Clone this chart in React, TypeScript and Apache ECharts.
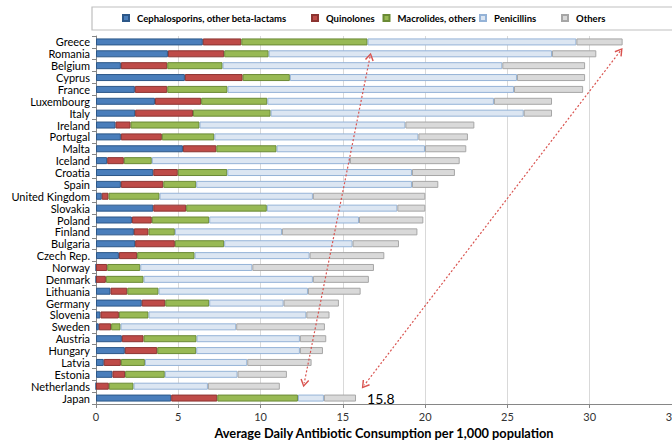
import React, { useEffect, useRef } from 'react';
import * as echarts from 'echarts';

const countries = [
  'Greece', 'Romania', 'Belgium', 'Cyprus', 'France', 'Luxembourg', 'Italy', 'Ireland',
  'Portugal', 'Malta', 'Iceland', 'Croatia', 'Spain', 'United Kingdom', 'Slovakia', 'Poland',
  'Finland', 'Bulgaria', 'Czech Rep.', 'Norway', 'Denmark', 'Lithuania', 'Germany', 'Slovenia',
  'Sweden', 'Austria', 'Hungary', 'Latvia', 'Estonia', 'Netherlands', 'Japan',
];

const cephalosporins = [6.49, 4.37, 1.51, 5.4, 2.36, 3.58, 2.38, 1.19, 1.51, 5.28, 0.68, 3.48, 1.51, 0.35, 3.48, 2.18, 2.3, 2.38, 1.39, 0.0, 0.0, 0.88, 2.78, 0.27, 0.17, 1.57, 1.75, 0.47, 1.0, 0.0, 4.57];
const quinolones = [2.34, 3.42, 2.82, 3.51, 1.97, 2.81, 3.51, 0.91, 2.49, 2.03, 1.01, 1.49, 2.58, 0.41, 2.0, 1.21, 0.89, 2.41, 1.11, 0.68, 0.6, 1.02, 1.43, 1.12, 0.75, 1.32, 1.97, 1.04, 0.77, 0.78, 2.8];
const macrolides = [7.67, 2.7, 3.36, 2.87, 3.66, 4.02, 4.72, 4.19, 3.19, 3.66, 1.7, 3.01, 2.0, 3.1, 4.9, 3.49, 1.6, 3.0, 3.49, 2.01, 2.29, 1.9, 2.67, 1.8, 0.57, 3.22, 2.37, 1.46, 2.41, 1.5, 4.9];
const penicillins = [12.69, 17.22, 17.0, 13.8, 17.41, 13.77, 15.38, 12.51, 12.4, 9.02, 12.04, 11.22, 13.11, 9.32, 7.93, 9.1, 6.51, 7.8, 6.99, 6.81, 10.29, 9.08, 4.52, 9.59, 7.03, 6.28, 6.3, 6.22, 4.42, 4.52, 1.58];
const others = [2.81, 2.69, 5.03, 4.14, 4.2, 3.53, 1.72, 4.19, 3.01, 2.51, 6.67, 2.61, 1.6, 6.83, 1.7, 3.91, 8.23, 2.82, 4.54, 7.39, 3.4, 3.2, 3.36, 1.41, 5.39, 1.6, 1.4, 3.91, 3.0, 4.37, 1.95];

const seriesNames = ['Cephalosporins, other beta-lactams', 'Quinolones', 'Macrolides, others', 'Penicillins', 'Others'];
const japanLabel = '15.8';

// Arrow annotations: [value, row position] pairs (row 0 = Greece)
const arrowLines = [
  [[16.65, 1.25], [12.65, 28.75]],
  [[31.85, 0.78], [16.3, 28.92]],
];

export default function App() {
  const ref = useRef<HTMLDivElement>(null);
  useEffect(() => {
    const chart = echarts.init(ref.current!, null, { renderer: 'svg' });
    const fills = ['#4A7EBB', '#BE4B48', '#98B954', '#DCE6F2', '#D9D9D9'];
    const borders = ['#2C5788', '#8C3431', '#6A8A35', '#95B3D7', '#A6A6A6'];
    const datas = [cephalosporins, quinolones, macrolides, penicillins, others];
    const legendLefts = [122, 311, 382.5, 479, 561];
    const font = 'Lato';

    const barSeries: any[] = seriesNames.map((name, i) => ({
      name,
      type: 'bar',
      stack: 'total',
      barWidth: 7,
      yAxisIndex: 0,
      itemStyle: { color: fills[i], borderColor: borders[i], borderWidth: 1 },
      data: datas[i].map((v, j) => {
        if (i === 4 && j === countries.length - 1) {
          return {
            value: v,
            label: {
              show: true, position: 'right', distance: 11, formatter: japanLabel,
              fontSize: 14, color: '#000', fontFamily: font,
            },
          };
        }
        return v;
      }),
    }));

    barSeries.push({
      name: 'arrows',
      type: 'scatter',
      xAxisIndex: 0,
      yAxisIndex: 1,
      symbolSize: 0,
      silent: true,
      data: [],
      markLine: {
        silent: true,
        symbol: ['path://M0,9L5,0L10,9L8.6,10L5,3.2L1.4,10Z', 'path://M0,9L5,0L10,9L8.6,10L5,3.2L1.4,10Z'],
        symbolSize: [9, 8],
        label: { show: false },
        lineStyle: { color: '#D9534F', type: [2, 2], width: 1.2 },
        data: arrowLines.map(([a, b]) => [{ coord: a }, { coord: b }]),
      },
    });

    chart.setOption({
      animation: false,
      backgroundColor: '#fff',
      textStyle: { fontFamily: font },
      graphic: [
        {
          type: 'rect',
          shape: { x: 92, y: 7, width: 590, height: 23 },
          style: { fill: '#fff', stroke: '#BFBFBF', lineWidth: 1.2 },
          z: -10,
        },
      ],
      legend: seriesNames.map((name, i) => ({
        data: [name],
        left: legendLefts[i],
        top: 13,
        padding: 0,
        itemWidth: 6,
        itemHeight: 6,
        icon: 'rect',
        selectedMode: false,
        textStyle: { fontWeight: 'bold', fontSize: 9.5, color: '#000', fontFamily: font, padding: [0, 0, 0, 3] },
      })),
      grid: { left: 96, right: 0, top: 36, bottom: 37, containLabel: false, outerBoundsMode: 'none' },
      xAxis: {
        type: 'value',
        min: 0,
        max: 35,
        interval: 5,
        axisLine: { show: true, onZero: false, lineStyle: { color: '#868686' } },
        axisTick: { show: true, length: 4, lineStyle: { color: '#868686' } },
        axisLabel: { color: '#333', fontSize: 11, fontFamily: font, margin: 7 },
        splitLine: { show: true, lineStyle: { color: '#D9D9D9' } },
        name: 'Average Daily Antibiotic Consumption per 1,000 population',
        nameLocation: 'middle',
        nameGap: 21,
        nameTextStyle: { fontWeight: 'bold', fontSize: 12.8, color: '#000', fontFamily: font },
      },
      yAxis: [
        {
          type: 'category',
          inverse: true,
          data: countries,
          axisLine: { show: true, lineStyle: { color: '#868686' } },
          axisTick: { show: true, length: 4, lineStyle: { color: '#868686' } },
          axisLabel: { color: '#000', fontSize: 11, fontFamily: font, margin: 6, interval: 0 },
        },
        {
          type: 'value',
          inverse: true,
          min: -0.5,
          max: 30.5,
          show: false,
          splitLine: { show: false },
        },
      ],
      series: barSeries,
    });
    return () => chart.dispose();
  }, []);
  return (
    <div
      ref={ref}
      style={{ position: 'fixed', left: 0, top: 0, width: 672, height: 441, background: '#fff' }}
    />
  );
}
